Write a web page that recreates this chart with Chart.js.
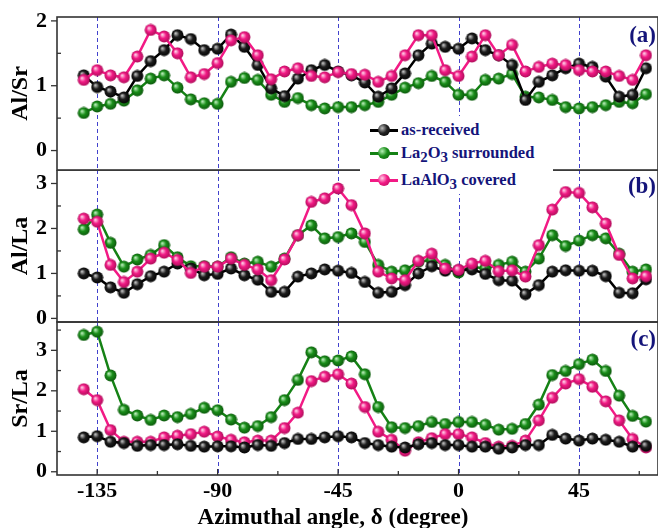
<!DOCTYPE html>
<html>
<head>
<meta charset="utf-8">
<script src="https://cdn.jsdelivr.net/npm/chart.js@4"></script>
<style>
  body { margin: 0; background: #fff; }
  #wrap { position: relative; width: 658px; height: 528px; overflow: hidden;
          font-family: "Liberation Serif", "Times New Roman", serif; font-weight: bold; }
  .panel { position: absolute; left: 0; width: 658px; }
  .tag { position: absolute; right: 2px; color: #14147a; font-size: 23px; line-height: 1; }
  #xtitle { position: absolute; left: 0; width: 666px; top: 505px; text-align: center;
            font-size: 23px; line-height: 1; color: #000; }
  #legend { position: absolute; left: 360px; top: 116px; width: 193px; height: 78px;
            background: #fff; color: #14147a; font-size: 16.5px; }
  .row { position: absolute; left: 0; height: 24px; display: flex; align-items: center; white-space: nowrap; }
  .sw { position: relative; width: 28px; height: 12px; margin-left: 10px; margin-right: 3px; }
  .sw .ln { position: absolute; left: 0; right: 0; top: 5px; height: 2.5px; }
  .sw .ball { position: absolute; left: 8px; top: 0; width: 12px; height: 12px; border-radius: 50%; }
  sub { font-size: 0.9em; vertical-align: -0.3em; line-height: 0; }
</style>
</head>
<body>
<div id="wrap">
  <div class="panel" style="top:0;height:171px"><canvas id="pa"></canvas></div>
  <div class="panel" style="top:170px;height:166px"><canvas id="pb"></canvas></div>
  <div class="panel" style="top:321px;height:207px"><canvas id="pc"></canvas></div>
  <div class="tag" style="top:23px">(a)</div>
  <div class="tag" style="top:174px">(b)</div>
  <div class="tag" style="top:327px">(c)</div>
  <div id="xtitle">Azimuthal angle, &#948; (degree)</div>
  <div id="legend">
    <div class="row" style="top:2px">
      <div class="sw"><div class="ln" style="background:#000"></div>
        <div class="ball" style="background:radial-gradient(circle at 35% 35%, #bbb 0%, #222 45%, #000 100%)"></div></div>
      <span>as-received</span>
    </div>
    <div class="row" style="top:25px">
      <div class="sw"><div class="ln" style="background:#158215"></div>
        <div class="ball" style="background:radial-gradient(circle at 35% 35%, #b8f0b8 0%, #1a8f1a 45%, #0b5a0b 100%)"></div></div>
      <span>La<sub>2</sub>O<sub>3</sub> surrounded</span>
    </div>
    <div class="row" style="top:52px">
      <div class="sw"><div class="ln" style="background:#f21a85"></div>
        <div class="ball" style="background:radial-gradient(circle at 35% 35%, #ffd0e8 0%, #f21a85 45%, #b00d5a 100%)"></div></div>
      <span>LaAlO<sub>3</sub> covered</span>
    </div>
  </div>
</div>
<script>
// azimuthal angle (degree)
const angles = [-140, -135, -130, -125, -120, -115, -110, -105, -100, -95, -90, -85, -80, -75, -70,
  -65, -60, -55, -50, -45, -40, -35, -30, -25, -20, -15, -10, -5, 0, 5, 10, 15, 20, 25, 30, 35,
  40, 45, 50, 55, 60, 65, 70];

// (a) Al/Sr
const alSrAsReceived = [1.16, 0.98, 0.91, 0.82, 1.15, 1.38, 1.55, 1.78, 1.72, 1.55, 1.57, 1.79, 1.60, 1.32, 0.96,
  0.84, 1.11, 1.24, 1.32, 1.22, 1.16, 1.05, 0.83, 0.96, 1.19, 1.47, 1.65, 1.60, 1.57, 1.73, 1.55, 1.47,
  1.32, 0.78, 1.06, 1.16, 1.27, 1.34, 1.29, 1.14, 0.83, 0.86, 1.27];
const alSrLa2O3 = [0.58, 0.68, 0.72, 0.77, 0.93, 1.11, 1.16, 0.97, 0.79, 0.73, 0.72, 1.06, 1.12, 1.09, 0.86,
  0.75, 0.81, 0.70, 0.65, 0.67, 0.67, 0.70, 0.75, 0.86, 0.97, 1.04, 1.15, 1.06, 0.86, 0.86, 1.09, 1.11,
  1.18, 0.83, 0.82, 0.78, 0.67, 0.65, 0.67, 0.70, 0.75, 0.73, 0.87];
const alSrLaAlO3 = [1.09, 1.24, 1.16, 1.13, 1.45, 1.86, 1.76, 1.50, 1.13, 1.18, 1.35, 1.70, 1.75, 1.47, 1.10,
  1.22, 1.27, 1.15, 1.13, 1.21, 1.18, 1.17, 1.06, 1.15, 1.47, 1.78, 1.78, 1.24, 1.15, 1.45, 1.78, 1.47,
  1.63, 1.22, 1.29, 1.34, 1.32, 1.24, 1.22, 1.22, 1.15, 1.09, 1.47];

// (b) Al/La
const alLaAsReceived = [1.00, 0.91, 0.69, 0.57, 0.76, 0.94, 1.04, 1.22, 1.11, 0.96, 0.99, 1.11, 0.96, 0.86, 0.59,
  0.59, 0.93, 1.00, 1.09, 1.06, 1.01, 0.81, 0.57, 0.59, 0.74, 1.00, 1.16, 1.06, 1.07, 1.09, 0.99, 0.85,
  0.84, 0.54, 0.74, 1.04, 1.07, 1.06, 1.06, 0.94, 0.57, 0.56, 0.87];
const alLaLa2O3 = [1.98, 2.31, 1.68, 1.15, 1.31, 1.41, 1.63, 1.36, 1.16, 1.16, 1.15, 1.36, 1.22, 1.26, 1.15,
  1.33, 1.85, 2.07, 1.78, 1.81, 1.89, 1.70, 1.19, 1.04, 1.07, 1.26, 1.30, 1.19, 1.02, 1.15, 1.11, 1.19,
  1.26, 1.04, 1.33, 1.85, 1.61, 1.73, 1.85, 1.78, 1.44, 1.04, 1.09];
const alLaLaAlO3 = [2.22, 2.15, 1.19, 0.81, 1.04, 1.33, 1.46, 1.30, 1.01, 1.15, 1.15, 1.33, 1.19, 1.09, 0.85,
  1.31, 1.85, 2.59, 2.67, 2.89, 2.52, 1.89, 1.04, 0.89, 0.85, 1.28, 1.44, 1.11, 1.08, 1.22, 1.28, 1.05,
  1.07, 0.93, 1.63, 2.42, 2.81, 2.79, 2.47, 2.11, 1.41, 0.89, 0.94];

// (c) Sr/La
const srLaAsReceived = [0.85, 0.88, 0.74, 0.71, 0.64, 0.66, 0.66, 0.68, 0.64, 0.62, 0.63, 0.63, 0.60, 0.66, 0.64,
  0.71, 0.81, 0.81, 0.85, 0.88, 0.85, 0.71, 0.66, 0.62, 0.60, 0.68, 0.71, 0.66, 0.66, 0.62, 0.62, 0.57,
  0.60, 0.66, 0.66, 0.91, 0.82, 0.77, 0.82, 0.79, 0.74, 0.62, 0.64];
const srLaLa2O3 = [3.38, 3.46, 2.38, 1.53, 1.39, 1.28, 1.39, 1.35, 1.43, 1.58, 1.52, 1.29, 1.09, 1.13, 1.35,
  1.77, 2.27, 2.95, 2.73, 2.75, 2.85, 2.41, 1.60, 1.10, 1.08, 1.13, 1.23, 1.18, 1.23, 1.23, 1.16, 1.04,
  1.06, 1.18, 1.66, 2.39, 2.49, 2.66, 2.77, 2.49, 1.88, 1.38, 1.24];
const srLaLaAlO3 = [2.04, 1.77, 1.03, 0.74, 0.74, 0.74, 0.85, 0.89, 0.93, 0.99, 0.87, 0.79, 0.73, 0.77, 0.77,
  1.08, 1.46, 2.24, 2.35, 2.41, 2.18, 1.60, 0.99, 0.79, 0.52, 0.73, 0.83, 0.93, 0.93, 0.85, 0.71, 0.62,
  0.64, 0.77, 1.27, 1.83, 2.18, 2.29, 2.10, 1.74, 1.27, 0.81, 0.60];

const xMajorTicks = [-135, -90, -45, 0, 45];
const xMinorTicks = [-112.5, -67.5, -22.5, 22.5, 67.5];
const yTicksA = [0, 0.5, 1, 1.5, 2];
const yTicksB = [0, 0.5, 1, 1.5, 2, 2.5, 3];
const yTicksC = [0, 0.5, 1, 1.5, 2, 2.5, 3, 3.5];

const FONT = '"Liberation Serif", "Times New Roman", serif';

function ball(base, light, dark) {
  const c = document.createElement('canvas');
  c.width = c.height = 13;
  const g = c.getContext('2d');
  const grd = g.createRadialGradient(4.5, 4.5, 0.3, 6.5, 6.5, 6.5);
  grd.addColorStop(0, light);
  grd.addColorStop(0.45, base);
  grd.addColorStop(1, dark);
  g.fillStyle = grd;
  g.beginPath();
  g.arc(6.5, 6.5, 6, 0, Math.PI * 2);
  g.fill();
  return c;
}
const styles = {
  asr: { color: '#000000', img: ball('#1e1e1e', '#c8c8c8', '#000') },
  la2o3: { color: '#158215', img: ball('#1a8f1a', '#bff0bf', '#0a520a') },
  laalo3: { color: '#f21a85', img: ball('#f21a85', '#ffd6ea', '#a80c56') }
};

function ds(key, values) {
  const s = styles[key];
  return {
    data: values.map((v, i) => ({ x: angles[i], y: v })),
    borderColor: s.color, borderWidth: 2.5,
    pointStyle: s.img, pointRadius: 6, pointHoverRadius: 6,
    fill: false, tension: 0
  };
}

const framePlugin = {
  id: 'frame',
  beforeDatasetsDraw(chart) {
    const { ctx, chartArea: a, scales: { x } } = chart;
    ctx.save();
    ctx.strokeStyle = 'rgba(45,45,200,0.9)';
    ctx.lineWidth = 1;
    ctx.setLineDash([4, 3]);
    xMajorTicks.forEach(v => {
      const px = Math.round(x.getPixelForValue(v)) + 0.5;
      ctx.beginPath(); ctx.moveTo(px, a.top); ctx.lineTo(px, a.bottom); ctx.stroke();
    });
    ctx.restore();
  },
  afterDraw(chart) {
    const { ctx, chartArea: a, scales: { x, y } } = chart;
    const o = chart.options.plugins.frame;
    ctx.save();
    ctx.strokeStyle = '#333';
    ctx.lineWidth = 1.6;
    ctx.strokeRect(a.left, a.top, a.right - a.left, a.bottom - a.top);
    ctx.lineWidth = 1.3;
    o.yTicks.forEach(v => {
      const py = y.getPixelForValue(v);
      ctx.beginPath();
      if (Number.isInteger(v)) { ctx.moveTo(a.left - 6, py); ctx.lineTo(a.left, py); }
      else { ctx.moveTo(a.left, py); ctx.lineTo(a.left + 4, py); }
      ctx.stroke();
    });
    if (o.xTicks) {
      xMajorTicks.concat(xMinorTicks).forEach(v => {
        const px = x.getPixelForValue(v);
        const len = xMajorTicks.includes(v) ? 6 : 4;
        ctx.beginPath(); ctx.moveTo(px, a.bottom); ctx.lineTo(px, a.bottom - len); ctx.stroke();
      });
    }
    ctx.restore();
  }
};

function makePanel(id, datasets, yMin, yMax, yTicks, yTitle, pad, showX) {
  new Chart(document.getElementById(id), {
    type: 'line',
    data: { datasets },
    plugins: [framePlugin],
    options: {
      responsive: true, maintainAspectRatio: false, animation: false,
      layout: { padding: pad, autoPadding: false },
      plugins: { legend: { display: false }, tooltip: { enabled: false },
                 frame: { yTicks, xTicks: showX } },
      scales: {
        x: {
          type: 'linear', min: -150, max: 74.5, display: showX,
          afterBuildTicks: s => { s.ticks = xMajorTicks.concat(xMinorTicks).sort((p, q) => p - q).map(v => ({ value: v })); },
          afterFit: s => {
            if (!showX) return;
            s.height = 53; s.paddingLeft = 0; s.paddingRight = 0;
          },
          grid: { display: false, drawTicks: false },
          border: { display: false },
          ticks: {
            padding: 3, color: '#000', maxRotation: 0, autoSkip: false,
            font: { family: FONT, size: 22, weight: 'bold' },
            callback: v => xMajorTicks.includes(v) ? String(v) : ''
          }
        },
        y: {
          min: yMin, max: yMax,
          afterBuildTicks: s => { s.ticks = yTicks.map(v => ({ value: v })); },
          afterFit: s => { s.width = 57; s.paddingTop = 0; s.paddingBottom = 0; },
          grid: { display: false, drawTicks: false },
          border: { display: false },
          ticks: {
            padding: 10, color: '#000',
            font: { family: FONT, size: 22, weight: 'bold' },
            callback: v => Number.isInteger(v) ? String(v) : ''
          },
          title: {
            display: true, text: yTitle, color: '#000',
            font: { family: FONT, size: 24, weight: 'bold', lineHeight: 1 },
            padding: { top: 9, bottom: 0 }
          }
        }
      }
    }
  });
}

makePanel('pa', [ds('laalo3', alSrLaAlO3), ds('asr', alSrAsReceived), ds('la2o3', alSrLa2O3)],
  -0.3, 2.06, yTicksA, 'Al/Sr', { top: 17, bottom: 1, left: 0, right: 0 }, false);
makePanel('pb', [ds('laalo3', alLaLaAlO3), ds('asr', alLaAsReceived), ds('la2o3', alLaLa2O3)],
  -0.08, 3.3, yTicksB, 'Al/La', { top: 0, bottom: 14, left: 0, right: 0 }, false);
makePanel('pc', [ds('asr', srLaAsReceived), ds('laalo3', srLaLaAlO3), ds('la2o3', srLaLa2O3)],
  -0.08, 3.7, yTicksC, 'Sr/La', { top: 1, bottom: 0, left: 0, right: 0 }, true);
</script>
</body>
</html>
